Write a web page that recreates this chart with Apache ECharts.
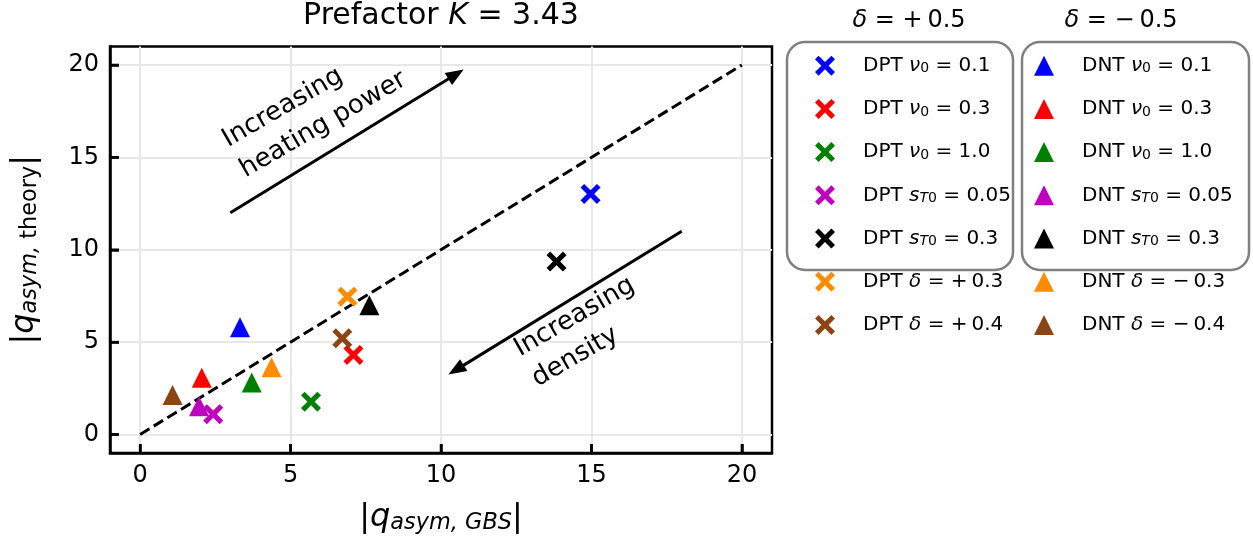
<!DOCTYPE html>
<html>
<head>
<meta charset="utf-8">
<script src="https://cdn.jsdelivr.net/npm/echarts@6/dist/echarts.min.js"></script>
<style>
  html, body { margin: 0; padding: 0; background: #fff; }
  #chart { width: 1253px; height: 548px; }
</style>
</head>
<body>
<div id="chart"></div>
<script>
// series colours, shared by the DPT (x) and DNT (triangle) cases
const colors = ['#0000ff', '#ff0000', '#008000', '#bf00bf', '#000000', '#ff8c00', '#8b4513'];

// parameter symbol / subscript / value for each legend row
const paramSym = ['ν', 'ν', 'ν', 's', 's', 'δ', 'δ'];
const paramSub = ['0', '0', '0', 'T0', 'T0', '', ''];
const dptValues = ['0.1', '0.3', '1.0', '0.05', '0.3', '+\u20090.3', '+\u20090.4'];
const dntValues = ['0.1', '0.3', '1.0', '0.05', '0.3', '−\u20090.3', '−\u20090.4'];

// |q_asym,GBS| (x) vs |q_asym,theory| (y)
const dptX = [14.97, 7.09, 5.68, 2.43, 13.84, 6.89, 6.72];
const dptY = [13.02, 4.31, 1.78, 1.10, 9.36, 7.46, 5.21];
const dntX = [3.32, 2.05, 3.71, 1.96, 7.62, 4.37, 1.08];
const dntY = [5.81, 3.07, 2.81, 1.53, 6.99, 3.64, 2.14];

// y = x reference line
const diagLine = [[0, 0], [20, 20]];

// annotation arrows (start, end) and text anchors in data units
const heatArrow = [[3, 12], [10.5, 19.5]];
const densArrow = [[18, 11], [10.5, 3.5]];
const heatText = [3.1, 15.05];
const densText = [12.8, 3.72];

const axisMin = -1;
const axisMax = 21;
const xTicks = [0, 5, 10, 15, 20];
const yTicks = [0, 5, 10, 15, 20];

const FONT = 'DejaVu Sans';
const crossPath = 'path://M0,18 L18,0 L50,32 L82,0 L100,18 L68,50 L100,82 L82,100 L50,68 L18,100 L0,82 L32,50 Z';
const triPath = 'path://M50,0 L100,100 L0,100 Z';

const dptNames = paramSym.map((s, i) => 'DPT ' + s + paramSub[i] + ' = ' + dptValues[i]);
const dntNames = paramSym.map((s, i) => 'DNT ' + s + paramSub[i] + ' = ' + dntValues[i]);

function legendRich(prefix, i, values) {
  let s = '{t|' + prefix + ' }{i|' + paramSym[i] + '}';
  if (paramSub[i] === '0') s += '{sub|0}';
  else if (paramSub[i] === 'T0') s += '{subi|T}{sub|0}';
  return s + '{t| = ' + values[i] + '}';
}

const legendRichStyle = {
  t: { fontSize: 20, fontFamily: FONT, color: '#000', lineHeight: 20 },
  i: { fontSize: 20, fontFamily: FONT, color: '#000', lineHeight: 20, fontStyle: 'italic' },
  sub: { fontSize: 14, fontFamily: FONT, color: '#000', lineHeight: 9, verticalAlign: 'bottom' },
  subi: { fontSize: 14, fontFamily: FONT, color: '#000', lineHeight: 9, verticalAlign: 'bottom', fontStyle: 'italic' }
};

const nameRich = {
  b: { fontSize: 32, fontFamily: FONT, color: '#000', lineHeight: 32 },
  q: { fontSize: 32, fontFamily: FONT, color: '#000', lineHeight: 32, fontStyle: 'italic' },
  s: { fontSize: 22.4, fontFamily: FONT, color: '#000', lineHeight: 9, verticalAlign: 'bottom', fontStyle: 'italic' },
  sr: { fontSize: 22.4, fontFamily: FONT, color: '#000', lineHeight: 9, verticalAlign: 'bottom' }
};

const headRich = {
  t: { fontSize: 24, fontFamily: FONT, color: '#000' },
  i: { fontSize: 24, fontFamily: FONT, color: '#000', fontStyle: 'italic' }
};

const series = [{
  type: 'line',
  data: diagLine,
  symbol: 'none',
  silent: true,
  z: 1,
  lineStyle: { color: '#000', width: 3, type: [11, 5] },
  markLine: {
    silent: true,
    symbol: ['none', 'triangle'],
    symbolSize: [14, 18],
    label: { show: false },
    lineStyle: { color: '#000', width: 3, type: 'solid' },
    data: [
      [{ coord: heatArrow[0] }, { coord: heatArrow[1] }],
      [{ coord: densArrow[0] }, { coord: densArrow[1] }]
    ]
  }
}];

// inward tick marks on the left and bottom frame
function tickSeries(points, dx, dy) {
  return {
    type: 'custom', silent: true, z: 4, clip: false,
    data: points,
    renderItem: (params, api) => {
      const p = api.coord([api.value(0), api.value(1)]);
      return {
        type: 'line',
        shape: { x1: p[0], y1: p[1], x2: p[0] + dx, y2: p[1] + dy },
        style: { stroke: '#000', lineWidth: 2.5 }
      };
    }
  };
}
series.push(tickSeries(yTicks.map(v => [axisMin, v]), 9, 0));
series.push(tickSeries(xTicks.map(v => [v, axisMin]), 0, -9));

for (let i = 0; i < colors.length; i++) {
  series.push({
    type: 'scatter', name: dptNames[i], data: [[dptX[i], dptY[i]]],
    symbol: crossPath, symbolSize: 20, itemStyle: { color: colors[i], opacity: 1 }, z: 3
  });
}
for (let i = 0; i < colors.length; i++) {
  series.push({
    type: 'scatter', name: dntNames[i], data: [[dntX[i], dntY[i]]],
    symbol: triPath, symbolSize: 20, itemStyle: { color: colors[i], opacity: 1 }, z: 3
  });
}

function noteSeries(pos, text) {
  return {
    type: 'scatter', data: [pos], symbolSize: 1, silent: true,
    itemStyle: { color: 'rgba(0,0,0,0)', opacity: 1 },
    label: {
      show: true, position: 'inside', align: 'left', verticalAlign: 'middle',
      rotate: 30, formatter: text, fontSize: 26, lineHeight: 35,
      fontFamily: FONT, color: '#000', opacity: 1
    }
  };
}
series.push(noteSeries(heatText, 'Increasing\nheating power'));
series.push(noteSeries(densText, 'Increasing\ndensity'));

function axisCommon(ticks) {
  return {
    type: 'value', min: axisMin, max: axisMax,
    axisLine: { show: true, onZero: false, lineStyle: { color: '#000', width: 2.5 } },
    axisTick: { show: true, inside: true, length: 9, customValues: ticks, lineStyle: { color: '#000', width: 2.5 } },
    axisLabel: { customValues: ticks, fontSize: 24, fontFamily: FONT, color: '#000', margin: 11 },
    splitLine: { show: true, lineStyle: { color: '#e8e8e8', width: 2 } },
    nameLocation: 'middle',
    nameTextStyle: { fontSize: 32, fontFamily: FONT, color: '#000', lineHeight: 32, rich: nameRich }
  };
}

const xAxis = Object.assign(axisCommon(xTicks), {
  name: '{b||}{q|q}{s|asym, GBS}{b||}', nameGap: 49
});
const yAxis = Object.assign(axisCommon(yTicks), {
  name: '{b||}{q|q}{s|asym,}{sr| theory}{b||}', nameGap: 69, nameRotate: 90
});

function legendCol(names, left, icon, prefix, values) {
  return {
    orient: 'vertical', left: left, top: 55.7, padding: 0,
    itemWidth: 66, itemHeight: 20, itemGap: 23.2,
    selectedMode: false,
    data: names.map(n => ({ name: n, icon: icon })),
    formatter: name => legendRich(prefix, names.indexOf(name), values),
    textStyle: { fontSize: 20, fontFamily: FONT, color: '#000', rich: legendRichStyle }
  };
}

const option = {
  animation: false,
  backgroundColor: '#fff',
  title: {
    text: '{t|Prefactor }{i|K}{t| = 3.43}',
    left: 441, top: 1.5, textAlign: 'center', padding: 0,
    textStyle: {
      fontWeight: 'normal',
      rich: {
        t: { fontSize: 30, fontFamily: FONT, color: '#000', fontWeight: 'normal' },
        i: { fontSize: 30, fontFamily: FONT, color: '#000', fontWeight: 'normal', fontStyle: 'italic' }
      }
    }
  },
  grid: {
    left: 110, top: 46.5, right: 481, bottom: 95,
    show: true, borderColor: '#000', borderWidth: 2.5,
    outerBoundsMode: 'none'
  },
  xAxis: xAxis,
  yAxis: yAxis,
  legend: [
    legendCol(dptNames, 815, crossPath, 'DPT', dptValues),
    legendCol(dntNames, 1034, triPath, 'DNT', dntValues)
  ],
  graphic: [
    { type: 'rect', shape: { x: 787, y: 42, width: 226, height: 228, r: 18 },
      style: { fill: 'none', stroke: '#808080', lineWidth: 2.5 } },
    { type: 'rect', shape: { x: 1022, y: 42, width: 227, height: 228, r: 18 },
      style: { fill: 'none', stroke: '#808080', lineWidth: 2.5 } },
    { type: 'text', x: 909, y: 21,
      style: { text: '{i|δ}{t| = +\u20090.5}', align: 'center', verticalAlign: 'middle', rich: headRich } },
    { type: 'text', x: 1121, y: 21,
      style: { text: '{i|δ}{t| = −\u20090.5}', align: 'center', verticalAlign: 'middle', rich: headRich } }
  ],
  series: series
};

const chart = echarts.init(document.getElementById('chart'));
chart.setOption(option);
</script>
</body>
</html>
